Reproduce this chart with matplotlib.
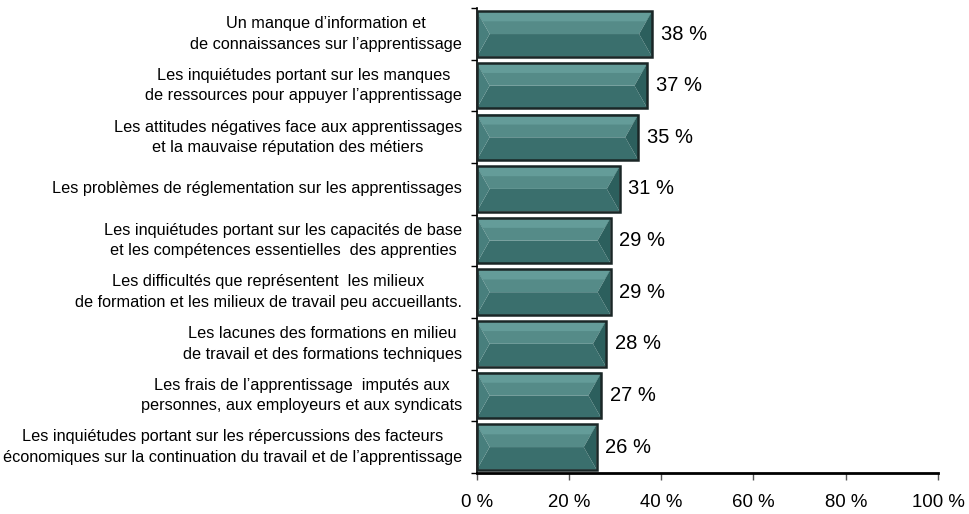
import matplotlib.pyplot as plt
from matplotlib.patches import Polygon, Rectangle

plt.rcParams['font.family'] = ['Liberation Sans', 'DejaVu Sans']

labels = [
    "Un manque d\u2019information et\nde connaissances sur l\u2019apprentissage",
    "Les inquiétudes portant sur les manques\nde ressources pour appuyer l\u2019apprentissage",
    "Les attitudes négatives face aux apprentissages\net la mauvaise réputation des métiers",
    "Les problèmes de réglementation sur les apprentissages",
    "Les inquiétudes portant sur les capacités de base\net les compétences essentielles  des apprenties",
    "Les difficultés que représentent  les milieux\nde formation et les milieux de travail peu accueillants.",
    "Les lacunes des formations en milieu\nde travail et des formations techniques",
    "Les frais de l\u2019apprentissage  imputés aux\npersonnes, aux employeurs et aux syndicats",
    "Les inquiétudes portant sur les répercussions des facteurs\néconomiques sur la continuation du travail et de l\u2019apprentissage",
]
values = [38, 37, 35, 31, 29, 29, 28, 27, 26]
xticks = [0, 20, 40, 60, 80, 100]


def bevel_bar(ax, y, w, h):
    """Draw a bevelled teal bar from x=0 to w centred at y."""
    y0, y1 = y - h / 2, y + h / 2
    ym = y
    dx = 2.8  # bevel inset in data units
    # bottom (flat) part
    ax.add_patch(Polygon([(0, y0), (w, y0), (w - dx, ym), (dx, ym)],
                         closed=True, facecolor='#3a6f6d', edgecolor='none', zorder=2))
    # top lighter part
    ax.add_patch(Polygon([(0, y1), (w, y1), (w - dx, ym), (dx, ym)],
                         closed=True, facecolor='#558b88', edgecolor='none', zorder=2))
    # band near the top
    ax.add_patch(Polygon([(0, y1), (w, y1), (w - dx * 0.45, y1 - h * 0.22), (dx * 0.45, y1 - h * 0.22)],
                         closed=True, facecolor='#649c99', edgecolor='none', zorder=2))
    # left side
    ax.add_patch(Polygon([(0, y0), (dx, ym), (0, y1)],
                         closed=True, facecolor='#487f7d', edgecolor='none', zorder=2))
    # right side
    ax.add_patch(Polygon([(w, y0), (w - dx, ym), (w, y1)],
                         closed=True, facecolor='#2c5f5d', edgecolor='none', zorder=2))
    # outline
    ax.add_patch(Rectangle((0, y0), w, h, facecolor='none', edgecolor='#1a2626',
                           linewidth=1.8, zorder=3))


fig = plt.figure(figsize=(9.69, 5.14), dpi=100)
ax = fig.add_axes([0.492, 0.080, 0.476, 0.904])

n = len(values)
ypos = list(range(n))[::-1]
bar_h = 0.88
for y, v in zip(ypos, values):
    bevel_bar(ax, y, v, bar_h)
    ax.text(v + 1.9, y, f"{v} %", va='center', ha='left', fontsize=14.5)

ax.set_xlim(0, 100)
ax.set_ylim(-0.5, n - 0.5)
ax.set_xticks(xticks)
ax.set_xticklabels([f"{t} %" for t in xticks], fontsize=13.4)
ax.tick_params(axis='x', direction='out', length=5, width=1, pad=10, color='#555555')

ax.set_yticks([i - 0.5 for i in range(n + 1)])
ax.set_yticklabels([])
ax.tick_params(axis='y', direction='out', length=4, width=1)
for y, lab in zip(ypos, labels):
    ax.text(-3.2, y, lab, ha='right', va='center', multialignment='center',
            fontsize=11.7, linespacing=1.45, transform=ax.transData)

for s in ['top', 'right']:
    ax.spines[s].set_visible(False)
ax.spines['bottom'].set_linewidth(2)
ax.spines['left'].set_linewidth(1.2)

fig.savefig('out.png', dpi=100)
